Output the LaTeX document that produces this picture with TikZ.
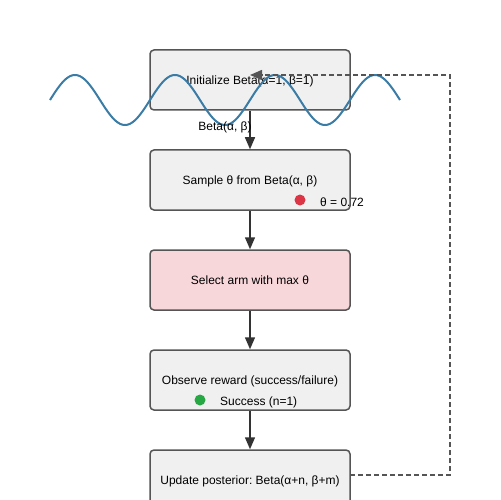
\documentclass[tikz,border=0pt]{standalone}
\usepackage{fontspec}
\setmainfont{Liberation Sans}
\usetikzlibrary{arrows.meta}
\frenchspacing
\definecolor{boxfill}{HTML}{F0F0F0}
\definecolor{pinkfill}{HTML}{F8D7DA}
\definecolor{boxline}{HTML}{555555}
\definecolor{arrowc}{HTML}{333333}
\definecolor{wavec}{HTML}{3A7CA5}
\definecolor{redc}{HTML}{DC3545}
\definecolor{greenc}{HTML}{28A745}
\tikzset{
  stepbox/.style={draw=boxline, line width=1.5bp, fill=boxfill, rounded corners=4bp,
    minimum width=200bp, minimum height=60bp, inner sep=0pt, text height=9bp, text depth=0pt,
    font=\fontsize{12bp}{14bp}\selectfont},
  flow/.style={draw=arrowc, line width=1.5bp, -{Triangle[length=12bp,width=10bp]}},
  loop/.style={draw=boxline, line width=1.5bp, dash pattern=on 5bp off 3bp, -{Triangle[length=12bp,width=10bp]}},
  lbl/.style={font=\fontsize{12bp}{14bp}\selectfont, inner sep=0pt},
  dot/.style={circle, inner sep=0pt, minimum size=11bp}
}
\begin{document}
\begin{tikzpicture}[x=1bp,y=-1bp]
\useasboundingbox (0,0) rectangle (500,500);
\node[stepbox] (b1) at (250,80) {Initialize Beta(α=1, β=1)};
\node[stepbox] (b2) at (250,180) {Sample θ from Beta(α, β)};
\node[stepbox, fill=pinkfill] (b3) at (250,280) {Select arm with max θ};
\node[stepbox] (b4) at (250,380) {Observe reward (success/failure)};
\node[stepbox] (b5) at (250,480) {Update posterior: Beta(α+n, β+m)};
\draw[flow] (b1) -- (b2);
\draw[flow] (b2) -- (b3);
\draw[flow] (b3) -- (b4);
\draw[flow] (b4) -- (b5);
\draw[wavec, line width=2bp] plot[domain=50:400, samples=281, smooth] ({\x},{100-25*sin(3.6*(\x-50))});
\coordinate (ls) at (350,475);
\coordinate (lr) at (450,475);
\coordinate (lt) at (450,75);
\coordinate (le) at (250,75);
\draw[loop] (ls) -- (lr) -- (lt) -- (le);
\node[lbl] (bl) at (225,127) {Beta(α, β)};
\node[dot, fill=redc] (rd) at (300,200) {};
\node[lbl, anchor=west] (tv) at (320,202) {θ = 0.72};
\node[dot, fill=greenc] (gd) at (200,400) {};
\node[lbl, anchor=west] (sv) at (220,402) {Success (n=1)};
\end{tikzpicture}
\end{document}
